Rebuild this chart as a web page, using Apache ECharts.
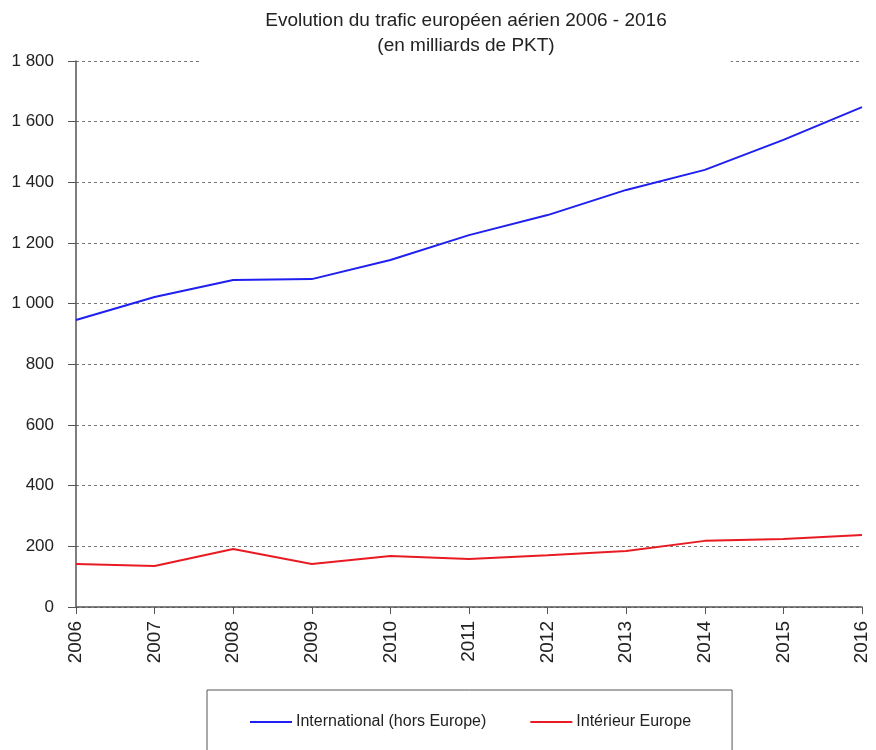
<!DOCTYPE html>
<html>
<head>
<meta charset="utf-8">
<script src="https://cdn.jsdelivr.net/npm/echarts@6/dist/echarts.min.js"></script>
<style>
  html, body { margin: 0; padding: 0; background: #fff; }
  #chart { width: 876px; height: 750px; }
</style>
</head>
<body>
<div id="chart"></div>
<script>
// données
const years = ["2006", "2007", "2008", "2009", "2010", "2011", "2012", "2013", "2014", "2015", "2016"];
const international = [946, 1022, 1078, 1081, 1144, 1226, 1292, 1375, 1441, 1540, 1648];
const interieur = [142, 135, 191, 142, 168, 158, 171, 185, 218, 224, 237];
const seriesNames = ["International (hors Europe)", "Intérieur Europe"];

const font = "'Liberation Sans', Arial, sans-serif";
let chart = echarts.init(document.getElementById("chart"));
let option = {
  animation: false,
  title: {
    text: "Evolution du trafic européen aérien 2006 - 2016\n(en milliards de PKT)",
    left: 402,
    top: 0,
    textAlign: "center",
    backgroundColor: "#fff",
    padding: [8, 64, 10, 64],
    textStyle: {
      fontFamily: font,
      fontSize: 19,
      fontWeight: "normal",
      color: "#222",
      lineHeight: 25,
    },
  },
  legend: {
    left: 207,
    top: 690,
    orient: "horizontal",
    borderColor: "#555",
    borderWidth: 1,
    padding: [24, 41, 40, 43],
    itemGap: 44,
    itemWidth: 42,
    itemHeight: 2,
    icon: "rect",
    textStyle: { fontFamily: font, fontSize: 16, color: "#222", padding: [0, 0, 0, -1] },
    data: seriesNames,
  },
  grid: { left: 76, right: 14, top: 61, bottom: 143 },
  xAxis: {
    type: "category",
    data: years,
    boundaryGap: false,
    axisLine: { lineStyle: { color: "#555", width: 1.5 } },
    axisTick: { show: true, length: 7, alignWithLabel: true, lineStyle: { color: "#555" } },
    axisLabel: {
      rotate: 90,
      margin: 14,
      interval: 0,
      fontFamily: font,
      fontSize: 19,
      color: "#222",
    },
  },
  yAxis: {
    type: "value",
    min: 0,
    max: 1800,
    interval: 200,
    axisLine: { show: true, lineStyle: { color: "#555", width: 1.5 } },
    axisTick: { show: true, length: 8, lineStyle: { color: "#555" } },
    axisLabel: {
      margin: 22,
      fontFamily: font,
      fontSize: 17,
      color: "#222",
      formatter: function (v) {
        return String(v).replace(/\B(?=(\d{3})+(?!\d))/g, " ");
      },
    },
    splitLine: {
      show: true,
      lineStyle: { color: "#777", width: 1, type: [3, 3] },
    },
  },
  series: [
    {
      name: seriesNames[0],
      type: "line",
      data: international,
      showSymbol: false,
      symbol: "none",
      lineStyle: { color: "#1f1fef", width: 2 },
      itemStyle: { color: "#1f1fef" },
    },
    {
      name: seriesNames[1],
      type: "line",
      data: interieur,
      showSymbol: false,
      symbol: "none",
      lineStyle: { color: "#e81b23", width: 2 },
      itemStyle: { color: "#e81b23" },
    },
  ],
};
chart.setOption(option);
</script>
</body>
</html>
